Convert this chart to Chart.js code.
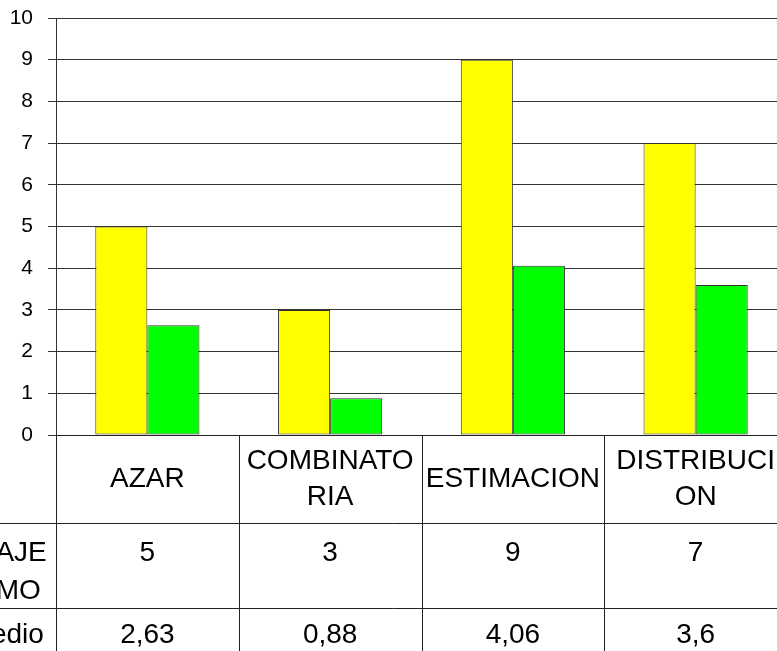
<!DOCTYPE html>
<html>
<head>
<meta charset="utf-8">
<script src="https://cdn.jsdelivr.net/npm/chart.js@4"></script>
<style>
  body { margin: 0; background: #fff; }
  #wrap { width: 777px; height: 651px; overflow: hidden; }
</style>
</head>
<body>
<div id="wrap"><canvas id="chart1" width="787" height="651"></canvas></div>
<script>
// data
const categories = [["AZAR"], ["COMBINATO", "RIA"], ["ESTIMACION"], ["DISTRIBUCI", "ON"]];
const seriesNames = [["PUNTAJE", "MAXIMO"], ["Promedio"]];
const puntajeMaximo = [5, 3, 9, 7];
const promedio = [2.63, 0.88, 4.06, 3.6];
const yTicks = [0, 1, 2, 3, 4, 5, 6, 7, 8, 9, 10];

function fmt(v) {
  return String(v).replace(".", ",");
}

// draws the data table under the plot (Excel style)
const tablePlugin = {
  id: "dataTable",
  afterDraw(chart) {
    const ctx = chart.ctx;
    const area = chart.chartArea;
    const x = chart.scales.x;
    const n = categories.length;
    const w = (area.right - area.left) / n;
    const top = area.bottom;
    const row1 = top + 88;   // end of category row
    const row2 = row1 + 85;  // end of first series row
    const bottom = chart.height;

    ctx.save();
    ctx.strokeStyle = "#222";
    ctx.lineWidth = 1;
    ctx.beginPath();
    for (let i = 0; i <= n; i++) {
      const lx = Math.round(area.left + i * w) + 0.5;
      ctx.moveTo(lx, top);
      ctx.lineTo(lx, bottom);
    }
    ctx.moveTo(area.left, top + 0.5);
    ctx.lineTo(chart.width, top + 0.5);
    ctx.moveTo(0, row1 + 0.5);
    ctx.lineTo(chart.width, row1 + 0.5);
    ctx.moveTo(0, row2 + 0.5);
    ctx.lineTo(chart.width, row2 + 0.5);
    ctx.stroke();

    ctx.fillStyle = "#000";
    ctx.font = "28px 'Liberation Sans', Arial, sans-serif";
    ctx.textAlign = "center";
    ctx.textBaseline = "middle";
    const lh = 36;

    categories.forEach((lines, i) => {
      const cx = x.getPixelForValue(i);
      const cy = (top + row1) / 2 - (lines.length - 1) * lh / 2;
      lines.forEach((t, k) => ctx.fillText(t, cx, cy + k * lh));
      ctx.fillText(fmt(puntajeMaximo[i]), cx, row1 + 30);
      ctx.fillText(fmt(promedio[i]), cx, row2 + 27);
    });

    // row headers, mostly cut off on the left
    const hx = -16;
    seriesNames[0].forEach((t, k) => ctx.fillText(t, hx, row1 + 30 + k * 38));
    seriesNames[1].forEach((t, k) => ctx.fillText(t, hx, row2 + 27 + k * 38));
    ctx.restore();
  }
};

const ctx1 = document.getElementById("chart1");
new Chart(ctx1, {
  type: "bar",
  data: {
    labels: categories,
    datasets: [
      {
        label: seriesNames[0].join(" "),
        data: puntajeMaximo,
        backgroundColor: "#ffff00",
        borderColor: "#333",
        borderWidth: 1,
        borderSkipped: false,
        categoryPercentage: 0.57,
        barPercentage: 1
      },
      {
        label: seriesNames[1].join(" "),
        data: promedio,
        backgroundColor: "#00ff00",
        borderColor: "#333",
        borderWidth: 1,
        borderSkipped: false,
        categoryPercentage: 0.57,
        barPercentage: 1
      }
    ]
  },
  options: {
    responsive: false,
    animation: false,
    layout: { padding: { top: 18, left: 0, right: 0, bottom: 0 } },
    plugins: {
      legend: { display: false },
      tooltip: { enabled: false }
    },
    scales: {
      x: {
        grid: { display: false },
        border: { display: false },
        ticks: { display: false },
        afterFit: (s) => { s.height = 216; }
      },
      y: {
        min: 0,
        max: 10,
        afterBuildTicks: (s) => { s.ticks = yTicks.map(v => ({ value: v })); },
        ticks: {
          color: "#000",
          padding: 15,
          font: { family: "'Liberation Sans', Arial, sans-serif", size: 21 }
        },
        grid: { color: "#333", tickColor: "#333", tickLength: 8, lineWidth: 1 },
        border: { color: "#333" },
        afterFit: (s) => {
          s.width = 56;
          s.paddingTop = 0;
          s.paddingBottom = 0;
        }
      }
    }
  },
  plugins: [tablePlugin]
});
</script>
</body>
</html>
